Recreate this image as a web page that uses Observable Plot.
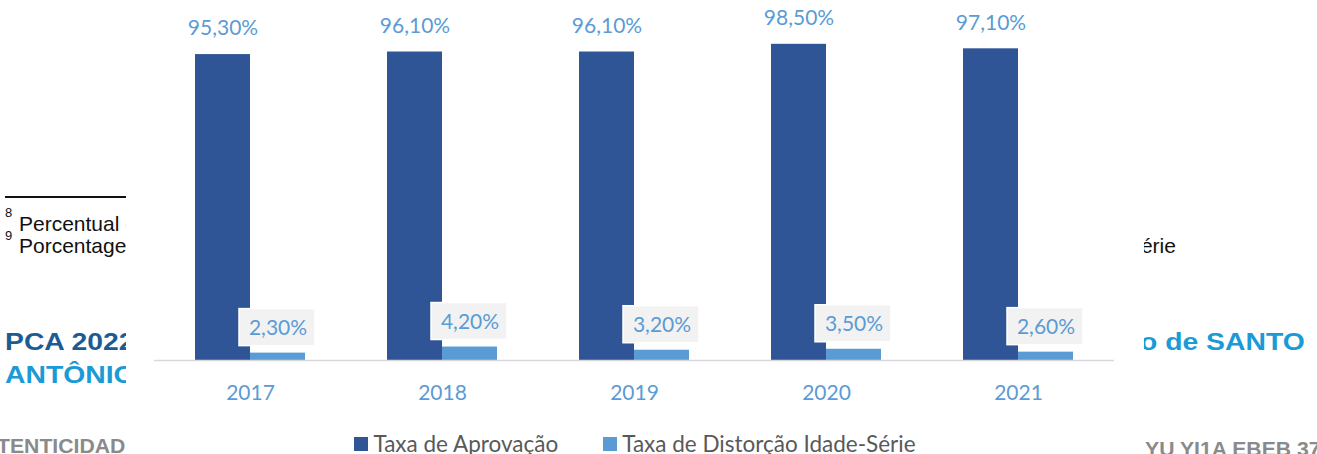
<!DOCTYPE html>
<html>
<head>
<meta charset="utf-8">
<script src="https://cdn.jsdelivr.net/npm/d3@7"></script>
<script src="https://cdn.jsdelivr.net/npm/@observablehq/plot@0.6"></script>
<style>
  html, body { margin: 0; padding: 0; background: #fff; }
  #page { position: relative; width: 1317px; height: 454px; overflow: hidden; background: #fff; font-family: "Liberation Sans", Arial, sans-serif; }
  .doc { position: absolute; white-space: nowrap; line-height: 1; transform-origin: left top; }
  .foot { font-size: 21px; color: #111; }
  .sup { font-size: 13px; color: #111; }
  .head { font-size: 24px; font-weight: bold; transform: scaleX(1.18); }
  .stamp { font-size: 20px; font-weight: bold; color: #8a8a8a; transform: scaleX(1.06); }
  #rule { position: absolute; left: 5px; top: 196px; width: 122px; height: 2px; background: #111; }
  #chartbox { position: absolute; left: 126px; top: 0; width: 1018px; height: 454px; background: #fff; }
  #legend { position: absolute; left: 0; top: 433px; width: 1018px; display: flex; justify-content: center; gap: 45px;
            font-family: Lato, "Open Sans", sans-serif; font-size: 22.5px; color: #595959; line-height: 22px; }
  .item { display: flex; align-items: center; gap: 5px; }
  .sw { width: 14px; height: 14px; display: inline-block; }
</style>
</head>
<body>
<div id="page">
  <div id="rule"></div>
  <div class="doc sup" style="left:5px; top:206px;">8</div>
  <div class="doc foot" style="left:19px; top:213px;">Percentual de alunos aprovados</div>
  <div class="doc sup" style="left:5px; top:229px;">9</div>
  <div class="doc foot" style="left:19px; top:235px;">Porcentagem de alunos com distorção idade-série</div>
  <div class="doc foot" style="left:1072px; top:235px;">idade-série</div>
  <div class="doc head" style="left:5px; top:330px; color:#1b5c94;">PCA 2022 - Prefeitura Municipal</div>
  <div class="doc head" style="left:5px; top:363px; color:#1a9ad6;">ANTÔNIO</div>
  <div class="doc head" style="left:1140px; top:330px; color:#1a9ad6;">o de SANTO</div>
  <div class="doc stamp" style="left:-3px; top:436px;">TENTICIDADE</div>
  <div class="doc stamp" style="left:1145px; top:439px;">YU YI1A EBEB 37</div>
  <div id="chartbox">
    <div id="chart"></div>
    <div id="legend"></div>
  </div>
</div>
<script>
const years = ["2017", "2018", "2019", "2020", "2021"];
const seriesNames = ["Taxa de Aprovação", "Taxa de Distorção Idade-Série"];
const seriesColors = ["#2f5597", "#5b9bd5"];
const aprovacao = [95.3, 96.1, 96.1, 98.5, 97.1];
const distorcao = [2.3, 4.2, 3.2, 3.5, 2.6];

const fmt = v => v.toFixed(2).replace(".", ",") + "%";
const dark = years.map((y, i) => ({year: y, series: seriesNames[0], value: aprovacao[i], label: fmt(aprovacao[i])}));
const light = years.map((y, i) => ({year: y, series: seriesNames[1], value: distorcao[i], label: fmt(distorcao[i])}));
const data = dark.concat(light);

const labelColor = "#5b9bd5";
const font = "Lato, 'Open Sans', sans-serif";

const chart = Plot.plot({
  width: 1018,
  height: 420,
  marginLeft: 28,
  marginRight: 30,
  marginTop: 39,
  marginBottom: 60,
  style: {fontFamily: font, background: "transparent", overflow: "visible"},
  fx: {domain: years, padding: 0, label: null},
  x: {domain: seriesNames, paddingInner: 0, paddingOuter: 0.745, axis: null},
  y: {domain: [0, 100], axis: null},
  color: {domain: seriesNames, range: seriesColors},
  marks: [
    Plot.barY(data, {fx: "year", x: "series", y: "value", fill: "series"}),
    Plot.ruleY([0], {stroke: "#d9d9d9", strokeWidth: 1.5}),
    Plot.text(dark, {fx: "year", x: "series", y: "value", text: "label", dy: -26, fill: labelColor, fontSize: 21}),
    Plot.barY(light, {fx: "year", x: "series", y1: "value", y2: "value", fill: "#f2f2f2", stroke: "white", strokeWidth: 1.5,
      insetTop: -44, insetBottom: 7, insetLeft: -11, insetRight: -10}),
    Plot.text(light, {fx: "year", x: "series", y: "value", text: "label", dy: -25, fill: labelColor, fontSize: 21}),
    Plot.axisFx({anchor: "bottom", tickSize: 0, tickPadding: 25, fontSize: 21, fill: labelColor, label: null})
  ]
});
document.getElementById("chart").appendChild(chart);

const legend = document.getElementById("legend");
seriesNames.forEach((name, i) => {
  const item = document.createElement("div");
  item.className = "item";
  const sw = document.createElement("span");
  sw.className = "sw";
  sw.style.background = seriesColors[i];
  const t = document.createElement("span");
  t.textContent = name;
  item.appendChild(sw);
  item.appendChild(t);
  legend.appendChild(item);
});
</script>
</body>
</html>
